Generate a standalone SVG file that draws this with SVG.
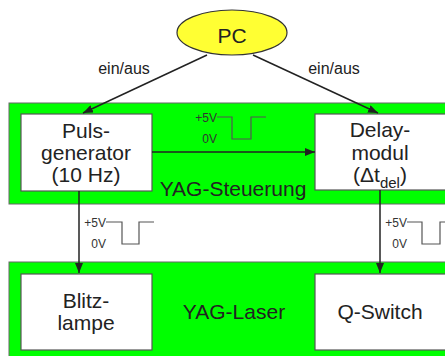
<svg xmlns="http://www.w3.org/2000/svg" width="445" height="356" viewBox="0 0 445 356">
<defs>
<marker id="ah" viewBox="0 0 10 8" refX="10" refY="4" markerWidth="10" markerHeight="8" markerUnits="userSpaceOnUse" orient="auto">
<path d="M0,0 L10,4 L0,8 z" fill="#222"/>
</marker>
<style>
.grp{fill:#00ff00;stroke:#666;stroke-width:1}
.box{fill:#fff;stroke:#555;stroke-width:1.2}
.t{font-family:"Liberation Sans",Arial,sans-serif;font-size:21px;fill:#222;text-anchor:middle}
.s{font-family:"Liberation Sans",Arial,sans-serif;font-size:16px;fill:#222;text-anchor:middle}
.v{font-family:"Liberation Sans",Arial,sans-serif;font-size:12px;fill:#333;text-anchor:end}
.ar{stroke:#222;stroke-width:1.5;fill:none;marker-end:url(#ah)}
.pl{stroke:#555;stroke-width:1.2;fill:none}
</style>
</defs>
<rect width="445" height="356" fill="#fff"/>
<g id="yag-steuerung">
<rect class="grp" x="9" y="103" width="445" height="101"/>
<text class="t" x="233" y="196">YAG-Steuerung</text>
</g>
<g id="yag-laser">
<rect class="grp" x="9" y="262" width="445" height="100"/>
<text class="t" x="234" y="319">YAG-Laser</text>
</g>
<g id="pc">
<ellipse cx="232" cy="32.5" rx="55" ry="22.5" fill="#ffff33" stroke="#333" stroke-width="1.2"/>
<text class="t" x="232" y="43">PC</text>
</g>
<g id="pulsgenerator">
<rect class="box" x="21" y="114" width="131" height="77"/>
<text class="t" x="86" y="138">Puls-</text>
<text class="t" x="86" y="160">generator</text>
<text class="t" x="86" y="182">(10 Hz)</text>
</g>
<g id="delaymodul">
<rect class="box" x="315" y="114" width="140" height="76"/>
<text class="t" x="380" y="137">Delay-</text>
<text class="t" x="380" y="160">modul</text>
<text class="t" x="380" y="182">(Δt<tspan font-size="15" dy="6">del</tspan><tspan dy="-6">)</tspan></text>
</g>
<g id="blitzlampe">
<rect class="box" x="21" y="274" width="131" height="76"/>
<text class="t" x="86" y="308">Blitz-</text>
<text class="t" x="86" y="330">lampe</text>
</g>
<g id="qswitch">
<rect class="box" x="315" y="274" width="140" height="76"/>
<text class="t" x="380" y="319">Q-Switch</text>
</g>
<g id="connectors">
<line class="ar" x1="207" y1="55" x2="83" y2="113"/>
<line class="ar" x1="253" y1="55" x2="378" y2="113"/>
<text class="s" x="124" y="74">ein/aus</text>
<text class="s" x="334" y="74">ein/aus</text>
<line class="ar" x1="152" y1="152" x2="315" y2="152"/>
<line class="ar" x1="79" y1="191" x2="79" y2="273"/>
<line class="ar" x1="380" y1="190" x2="380" y2="273"/>
<path class="pl" d="M217,117 H232 V139 H251 V117 H266"/>
<text class="v" x="217" y="122">+5V</text>
<text class="v" x="217" y="143">0V</text>
<path class="pl" d="M106,222 H122 V244 H139 V222 H154"/>
<text class="v" x="106" y="227">+5V</text>
<text class="v" x="106" y="248">0V</text>
<path class="pl" d="M407,222 H422 V244 H440 V222 H446"/>
<text class="v" x="407" y="227">+5V</text>
<text class="v" x="407" y="248">0V</text>
</g>
</svg>
